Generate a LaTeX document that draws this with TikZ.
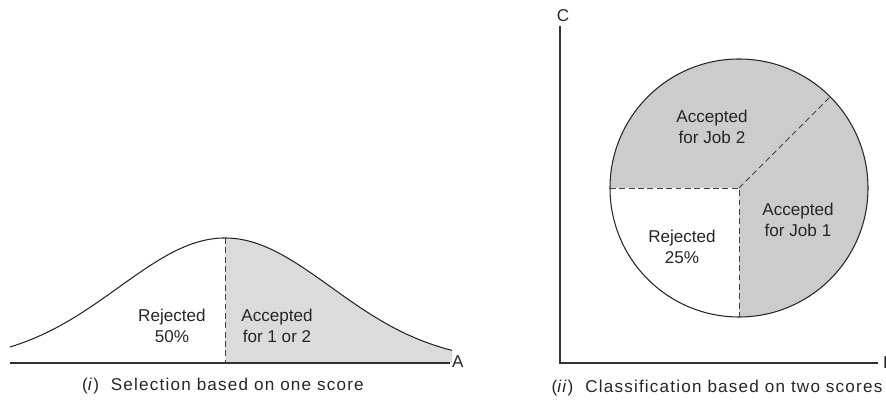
\documentclass[tikz,border=0pt]{standalone}
\usepackage{fontspec}
\setmainfont{Liberation Sans}
\usetikzlibrary{calc}
\begin{document}
\begin{tikzpicture}[x=0.03cm,y=-0.03cm,
  lbl/.style={font=\fontsize{14.6}{18}\selectfont, align=center, inner sep=0pt, text=black!85},
  captxt/.style={font=\fontsize{14.6}{16}\selectfont\addfontfeature{LetterSpace=7}, inner sep=0pt, text=black!85},
  axlbl/.style={font=\fontsize{14.6}{16}\selectfont, inner sep=0pt, text=black!85},
  outline/.style={line width=0.9pt, black!85},
  dsh/.style={line width=0.8pt, black!75, dash pattern=on 5pt off 3pt},
  axis/.style={line width=0.9pt, black!80}]
\useasboundingbox (0,0) rectangle (886,401);
\definecolor{shadeL}{gray}{0.86}
\definecolor{shadeR}{gray}{0.80}
% ---------- left panel ----------
\fill[shadeL] (225,363) -- plot[domain=225:452,samples=60] ({\x},{363-125*exp(-(((\x-225)/100)^2)/2.2494)}) -- (452,363) -- cycle;
\draw[outline] plot[domain=10:452,samples=120] ({\x},{363-125*exp(-(((\x-225)/100)^2)/2.2494)});
\coordinate (bl) at (10,363);
\coordinate (blend) at (450,363);
\coordinate (peak) at (225,238);
\coordinate (pfoot) at (225,363);
\node[axlbl, anchor=west] (A) at (452,362) {A};
\draw[axis] (bl) -- (blend);
\draw[dsh] (peak) -- (pfoot);
\node[lbl] (rej1) at (172,326) {Rejected\\50\%};
\node[lbl] (acc12) at (277,326) {Accepted\\for 1 or 2};
\node[captxt] (capL) at (223,386) {(\textit{i})\ \ Selection based on one score};
% ---------- right panel ----------
\coordinate (O) at (739,188);
\fill[shadeR] (O) circle[radius=129];
\fill[white] (O) -- ++(180:129) arc[start angle=180,end angle=90,radius=129] -- cycle;
\draw[outline] (O) circle[radius=129];
\coordinate (cl) at (610,188);
\coordinate (cb) at (739,317);
\coordinate (cd) at ($(O)+(-45:129)$);
\draw[dsh] (cl) -- (O) -- (cb);
\draw[dsh] (O) -- (cd);
\node[lbl] (job2) at (712,127) {Accepted\\for Job 2};
\node[lbl] (job1) at (798,220) {Accepted\\for Job 1};
\node[lbl] (rej2) at (682,247) {Rejected\\25\%};
\coordinate (orig) at (560,363);
\node[axlbl] (C) at (563,16) {C};
\coordinate (ytop) at (560,26);
\coordinate (xend) at (878,363);
\draw[axis] (ytop) -- (orig) -- (xend);
\node[axlbl, anchor=west] (B) at (883,363) {B};
\node[captxt] (capR) at (717,388) {(\textit{ii})\ \ Classification based on two scores};
\end{tikzpicture}
\end{document}
